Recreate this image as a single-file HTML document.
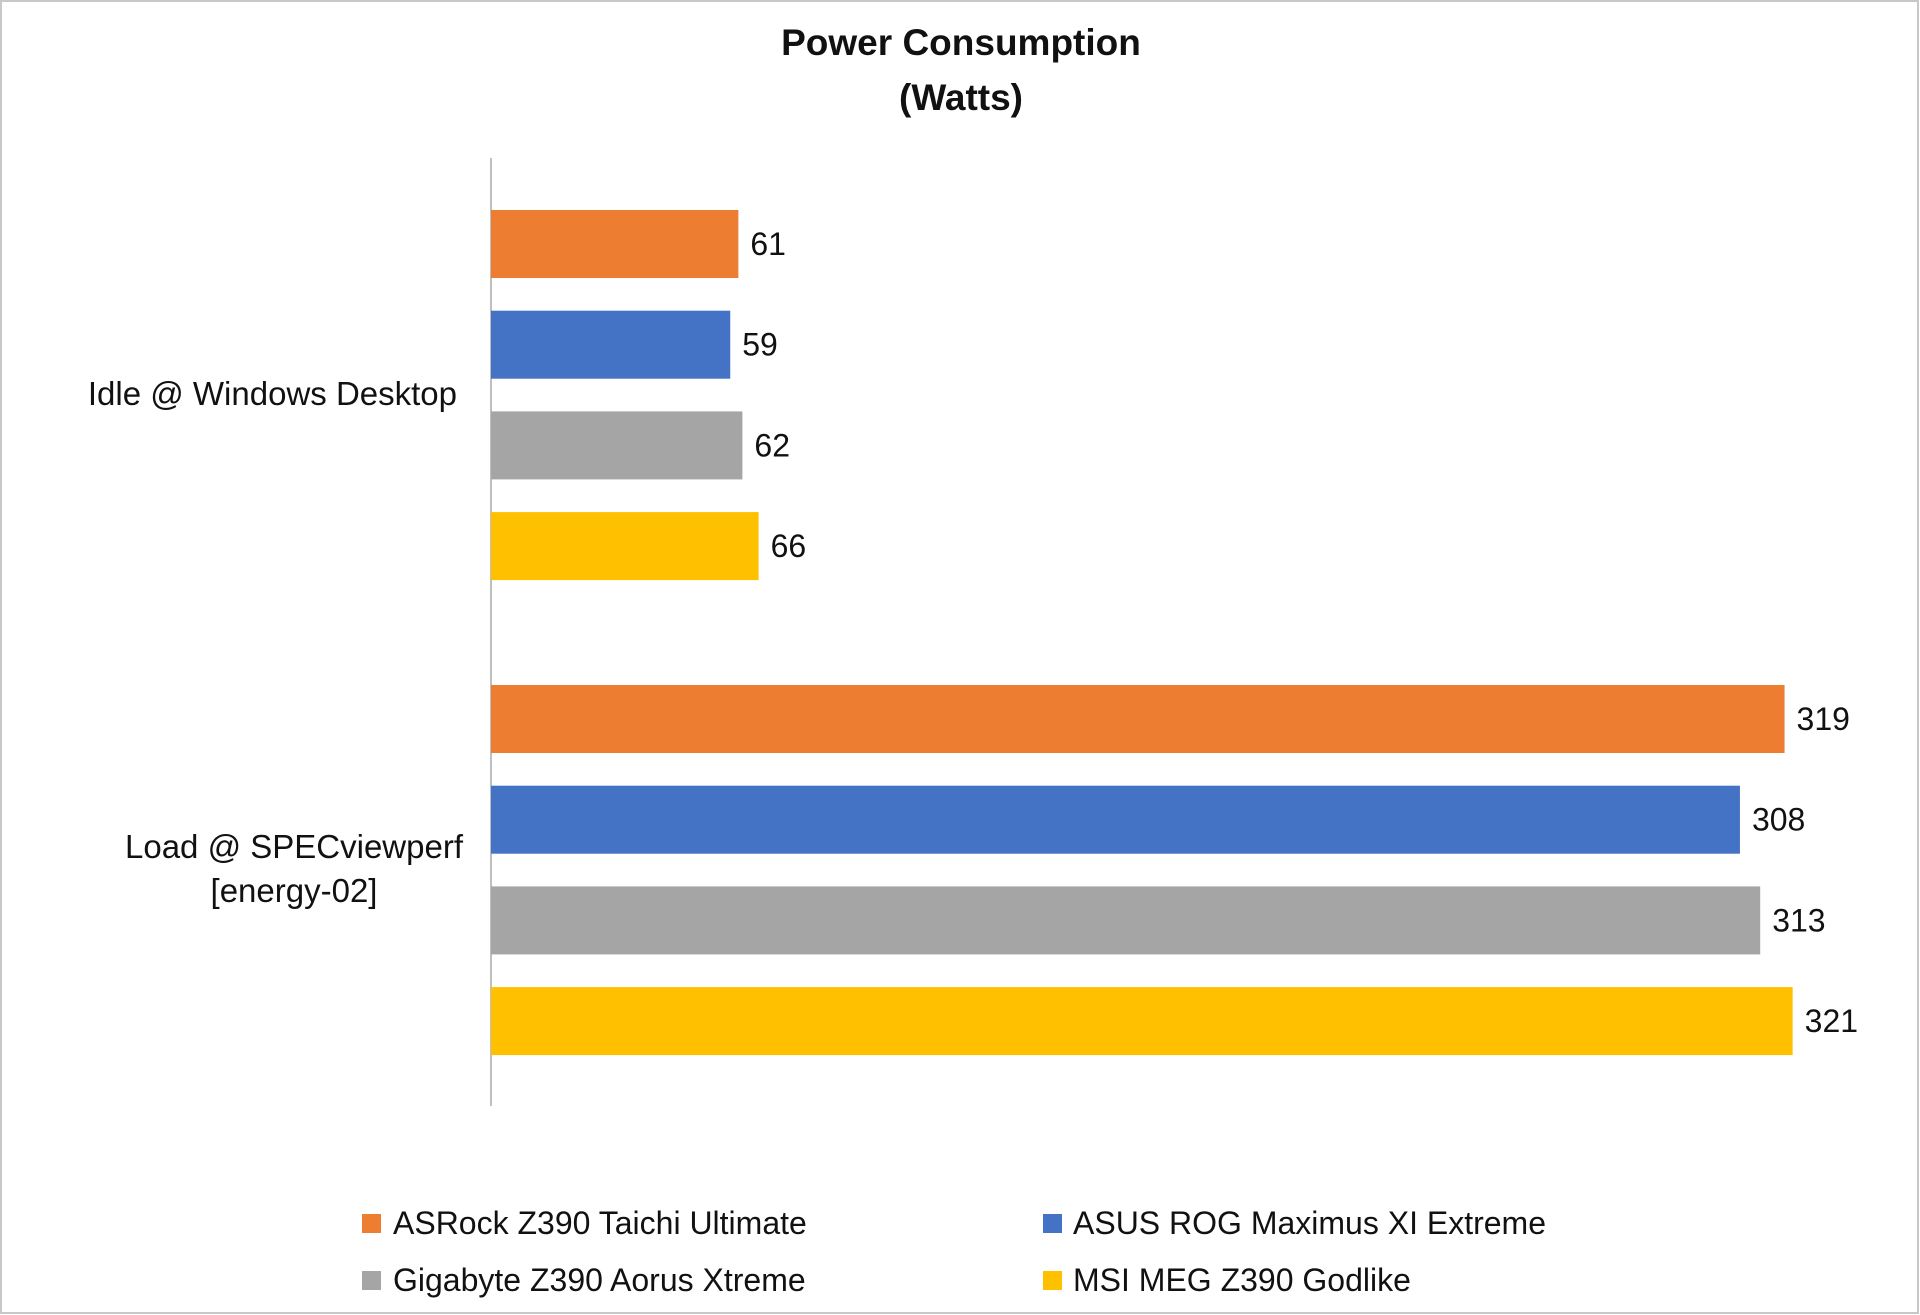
<!DOCTYPE html>
<html><head><meta charset="utf-8"><style>
html,body{margin:0;padding:0;background:#fff}
svg{display:block;font-family:"Liberation Sans",sans-serif}
</style></head><body>
<svg width="1920" height="1315" viewBox="0 0 1920 1315" id="chart">
<rect x="1" y="1" width="1917" height="1312" fill="#fff" stroke="#c8c8c8" stroke-width="2"/>
<text x="961" y="55" text-anchor="middle" font-size="37" font-weight="bold" fill="#111">Power Consumption</text>
<text x="961" y="110" text-anchor="middle" font-size="37" font-weight="bold" fill="#111">(Watts)</text>
<line x1="491" y1="158" x2="491" y2="1106" stroke="#bfbfbf" stroke-width="2"/>
<text x="457" y="405" text-anchor="end" font-size="33" fill="#111">Idle @ Windows Desktop</text>
<text x="294" y="858" text-anchor="middle" font-size="33" fill="#111">Load @ SPECviewperf</text>
<text x="294" y="902" text-anchor="middle" font-size="33" fill="#111">[energy-02]</text>
<g id="bars"></g>
<g>
<rect x="362" y="1214" width="19" height="19" fill="#ED7D31"/>
<text x="393" y="1234" font-size="32" fill="#111">ASRock Z390 Taichi Ultimate</text>
<rect x="1043" y="1214" width="19" height="19" fill="#4472C4"/>
<text x="1073" y="1234" font-size="32" fill="#111">ASUS ROG Maximus XI Extreme</text>
<rect x="362" y="1271" width="19" height="19" fill="#A5A5A5"/>
<text x="393" y="1291" font-size="32" fill="#111">Gigabyte Z390 Aorus Xtreme</text>
<rect x="1043" y="1271" width="19" height="19" fill="#FFC000"/>
<text x="1073" y="1291" font-size="32" fill="#111">MSI MEG Z390 Godlike</text>
</g>
</svg>
<script>
const categories = ["Idle @ Windows Desktop", "Load @ SPECviewperf [energy-02]"];
const seriesNames = ["ASRock Z390 Taichi Ultimate", "ASUS ROG Maximus XI Extreme", "Gigabyte Z390 Aorus Xtreme", "MSI MEG Z390 Godlike"];
const asrock = [61, 319];
const asus = [59, 308];
const gigabyte = [62, 313];
const msi = [66, 321];

const series = [asrock, asus, gigabyte, msi];
const colors = ["#ED7D31", "#4472C4", "#A5A5A5", "#FFC000"];
const x0 = 491, pxPerUnit = 4.055;
function xScale(v){ return x0 + v * pxPerUnit; }
const groupTop = [210, 685], pitch = 100.7, barH = 68;
function yScale(ci, si){ return groupTop[ci] + si * pitch; }
const g = document.getElementById('bars');
const NS = "http://www.w3.org/2000/svg";
categories.forEach((c, ci) => {
  series.forEach((s, si) => {
    const y = yScale(ci, si);
    const r = document.createElementNS(NS, 'rect');
    r.setAttribute('x', x0);
    r.setAttribute('y', y);
    r.setAttribute('width', xScale(s[ci]) - x0);
    r.setAttribute('height', barH);
    r.setAttribute('fill', colors[si]);
    
    
    g.appendChild(r);
    const t = document.createElementNS(NS, 'text');
    t.setAttribute('x', xScale(s[ci]) + 12);
    t.setAttribute('y', y + barH / 2 + 11);
    t.setAttribute('font-size', '32');
    t.setAttribute('fill', '#111');
    t.textContent = s[ci];
    
    
    g.appendChild(t);
  });
});
</script>
</body></html>
